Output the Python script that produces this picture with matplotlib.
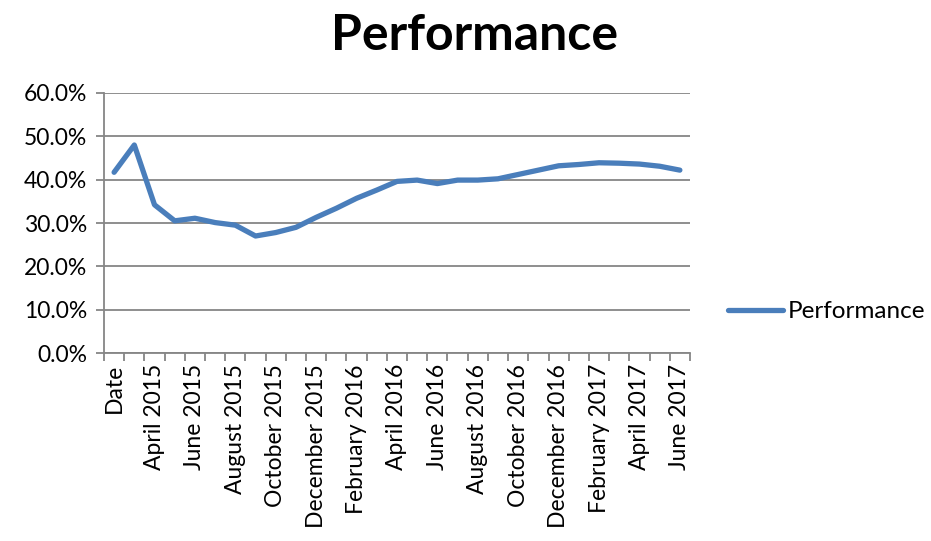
import matplotlib
matplotlib.use("Agg")
import matplotlib.pyplot as plt
from matplotlib.ticker import PercentFormatter
import numpy as np

plt.rcParams['font.family'] = ['Lato', 'DejaVu Sans']

# categories: first one is the header cell "Date", then monthly from March 2015
categories = ["Date", "March 2015", "April 2015", "May 2015", "June 2015", "July 2015",
              "August 2015", "September 2015", "October 2015", "November 2015",
              "December 2015", "January 2016", "February 2016", "March 2016",
              "April 2016", "May 2016", "June 2016", "July 2016", "August 2016",
              "September 2016", "October 2016", "November 2016", "December 2016",
              "January 2017", "February 2017", "March 2017", "April 2017",
              "May 2017", "June 2017"]
performance = [41.7, 48.0, 34.2, 30.5, 31.1, 30.1, 29.5, 27.0, 27.8, 29.0,
               31.3, 33.4, 35.7, 37.6, 39.6, 39.9, 39.1, 39.9, 39.9, 40.2,
               41.2, 42.2, 43.2, 43.5, 43.9, 43.8, 43.6, 43.1, 42.2]
yticks = [0, 10, 20, 30, 40, 50, 60]

blue = "#4A7EBB"
grey = "#868686"

fig = plt.figure(figsize=(9.31, 5.41), dpi=100)
ax = fig.add_axes([0.1117, 0.3475, 0.6294, 0.4806])

n = len(categories)
x = np.arange(n)
ax.plot(x, performance, color=blue, lw=3.8, solid_capstyle='round',
        solid_joinstyle='round', label="Performance")

ax.set_xlim(-0.5, n - 0.5)
ax.set_ylim(0, 60)
ax.set_yticks(yticks)
ax.yaxis.set_major_formatter(PercentFormatter(decimals=1))
ax.grid(axis='y', color=grey, lw=1.3)
ax.set_axisbelow(True)

# labels on every other category, tick marks on category boundaries
ax.set_xticks(x[::2])
ax.set_xticklabels(categories[::2], rotation=90, va='top', ha='center')
ax.set_xticks(np.arange(n + 1) - 0.5, minor=True)
ax.tick_params(axis='x', which='major', length=0, pad=8, labelsize=16.5)
ax.tick_params(axis='x', which='minor', length=6, color=grey, width=1.3)
ax.tick_params(axis='y', length=6, color=grey, width=1.3, labelsize=16.5, pad=6)

for s in ['top', 'right']:
    ax.spines[s].set_visible(False)
for s in ['left', 'bottom']:
    ax.spines[s].set_color(grey)
    ax.spines[s].set_linewidth(1.3)

fig.text(0.51, 0.935, "Performance", ha='center', va='center',
         fontsize=36, fontweight='bold')

fig.legend(loc='center left', bbox_to_anchor=(0.782, 0.424), frameon=False,
           fontsize=17.5, handlelength=2.25, handletextpad=0.2,
           borderpad=0, borderaxespad=0)

fig.savefig("out.png", dpi=100)
